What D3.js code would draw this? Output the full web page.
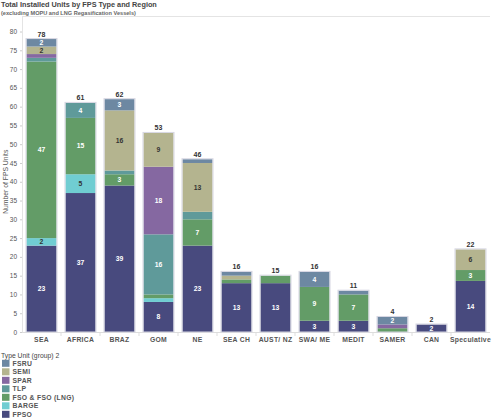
<!DOCTYPE html>
<html><head><meta charset="utf-8">
<script src="https://cdn.jsdelivr.net/npm/d3@7"></script>
<style>
body{margin:0;background:#fff;}
svg{display:block;font-family:"Liberation Sans",Arial,sans-serif;}
</style></head>
<body>
<svg id="chart" width="492" height="419"></svg>
<script>
const categories = ["SEA","AFRICA","BRAZ","GOM","NE","SEA CH","AUST/ NZ","SWA/ ME","MEDIT","SAMER","CAN","Speculative"];
const types = ["FPSO","BARGE","FSO & FSO (LNG)","TLP","SPAR","SEMI","FSRU"];
const legendOrder = ["FSRU","SEMI","SPAR","TLP","FSO & FSO (LNG)","BARGE","FPSO"];
const colors = ["#484a7e","#70cdd2","#639c67","#5f9a9a","#8568a1","#b4b48f","#6d88a2"];
// values per type, in category order
const FPSO  = [23,37,39, 8,23,13,13,3,3,0,2,13.6];
const BARGE = [ 2, 5, 0, 1, 0, 0, 0,0,0,0,0,0];
const FSO   = [47,15, 3, 1, 7, 1, 2,9,7,1,0,2.9];
const TLP   = [ 1, 4, 1,16, 2, 0, 0,0,0,0,0,0];
const SPAR  = [ 1, 0, 0,18, 0, 0, 0,0,0,1,0,0];
const SEMI  = [ 2, 0,16, 9,13, 1, 0,0,0,0,0,5.5];
const FSRU  = [ 2, 0, 3, 0, 1, 1, 0,4,1,2,0,0];
const yTicks = d3.range(0, 81, 5);
// segment labels suppressed by the original (overlap)
const hiddenLabels = ["NE|TLP","AUST/ NZ|FSO & FSO (LNG)"];

const series = [FPSO,BARGE,FSO,TLP,SPAR,SEMI,FSRU];
const rows = categories.map((c,i)=>{const r={cat:c}; types.forEach((t,j)=>r[t]=series[j][i]); return r;});
const stack = d3.stack().keys(types)(rows);
const colorOf = d3.scaleOrdinal().domain(types).range(colors);

const svg = d3.select("#chart");
const x = d3.scaleBand().domain(categories).range([22,490]).paddingInner(0.23).paddingOuter(0.115);
const y = d3.scaleLinear().domain([0,84]).range([332,16.5]);

// title
svg.append("text").attr("x",1).attr("y",7).attr("font-size",7.3).attr("font-weight","bold").attr("fill","#444")
  .text("Total Installed Units by FPS Type and Region");
svg.append("text").attr("x",1).attr("y",14.5).attr("font-size",5.6).attr("font-weight","bold").attr("fill","#666")
  .text("(excluding MOPU and LNG Regasification Vessels)");

// frame lines
svg.append("line").attr("x1",22).attr("x2",490).attr("y1",16.5).attr("y2",16.5).attr("stroke","#e4e4e4");
svg.append("line").attr("x1",22.5).attr("x2",22.5).attr("y1",16.5).attr("y2",332).attr("stroke","#e4e4e4");

// y axis
const ya = svg.append("g").attr("transform","translate(22,0)")
  .call(d3.axisLeft(y).tickValues(yTicks).tickSize(2).tickPadding(3));
ya.select(".domain").remove();
ya.selectAll("line").attr("stroke","#ccc");
ya.selectAll("text").attr("font-size",6.5).attr("fill","#555").attr("font-family","Liberation Sans, Arial, sans-serif");
svg.append("text").attr("transform","translate(8,"+y(40)+") rotate(-90)").attr("text-anchor","middle")
  .attr("font-size",6.8).attr("fill","#555").text("Number of FPS Units");

// x axis
svg.append("line").attr("x1",22).attr("x2",490).attr("y1",332.5).attr("y2",332.5).attr("stroke","#ddd");
const step = x.step();
categories.forEach((c,i)=>{
  if(i>0){const xx = x(c)-(step-x.bandwidth())/2;
    svg.append("line").attr("x1",xx).attr("x2",xx).attr("y1",332).attr("y2",336).attr("stroke","#ddd");}
});
svg.append("g").selectAll("text").data(categories).join("text")
  .attr("x",d=>x(d)+x.bandwidth()/2).attr("y",341.5).attr("text-anchor","middle")
  .attr("font-size",6.8).attr("font-weight","bold").attr("fill","#555").attr("letter-spacing",0.3).text(d=>d);

// bars
const layers = svg.append("g").selectAll("g").data(stack).join("g").attr("fill",d=>colorOf(d.key));
layers.selectAll("rect").data(d=>d.map(v=>Object.assign(v,{key:d.key}))).join("rect")
  .attr("x",d=>x(d.data.cat)).attr("width",x.bandwidth())
  .attr("y",d=>y(d[1])).attr("height",d=>Math.max(0,y(d[0])-y(d[1])));

// outline of stacks
const totals = rows.map(r=>({cat:r.cat,total:d3.sum(types,t=>r[t])}));
svg.append("g").selectAll("rect").data(totals).join("rect")
  .attr("x",d=>x(d.cat)-0.5).attr("width",x.bandwidth()+1)
  .attr("y",d=>y(d.total)-0.5).attr("height",d=>y(0)-y(d.total)+0.5)
  .attr("fill","none").attr("stroke","#d6d6e2").attr("stroke-width",1);

// segment labels
const segs = [];
stack.forEach(l=>l.forEach(v=>{const val=v[1]-v[0];
  if(val>=1.5 && !hiddenLabels.includes(v.data.cat+"|"+l.key)) segs.push({cat:v.data.cat,key:l.key,val,mid:(v[0]+v[1])/2});}));
svg.append("g").selectAll("text").data(segs).join("text")
  .attr("x",d=>x(d.cat)+x.bandwidth()/2).attr("y",d=>y(d.mid)+2.4).attr("text-anchor","middle")
  .attr("font-size",6.8).attr("font-weight","bold")
  .attr("fill",d=>(d.key==="SEMI"||d.key==="BARGE")?"#333":"#fff")
  .text(d=>d3.format(".0f")(d.val));

// totals
svg.append("g").selectAll("text").data(totals).join("text")
  .attr("x",d=>x(d.cat)+x.bandwidth()/2).attr("y",d=>y(d.total)-2.5).attr("text-anchor","middle")
  .attr("font-size",7).attr("font-weight","bold").attr("fill","#333").text(d=>d3.format(".0f")(d.total));

// legend
svg.append("text").attr("x",1).attr("y",357.5).attr("font-size",6.8).attr("fill","#444").text("Type Unit (group) 2");
const lg = svg.append("g").selectAll("g").data(legendOrder).join("g")
  .attr("transform",(d,i)=>`translate(0,${363.3+i*8.5})`);
lg.append("rect").attr("x",2).attr("y",-3.5).attr("width",7.5).attr("height",7).attr("fill",d=>colorOf(d));
lg.append("text").attr("x",12.5).attr("y",2.5).attr("font-size",6.8).attr("font-weight","bold").attr("fill","#555")
  .attr("letter-spacing",0.3).text(d=>d);
</script>
</body></html>
